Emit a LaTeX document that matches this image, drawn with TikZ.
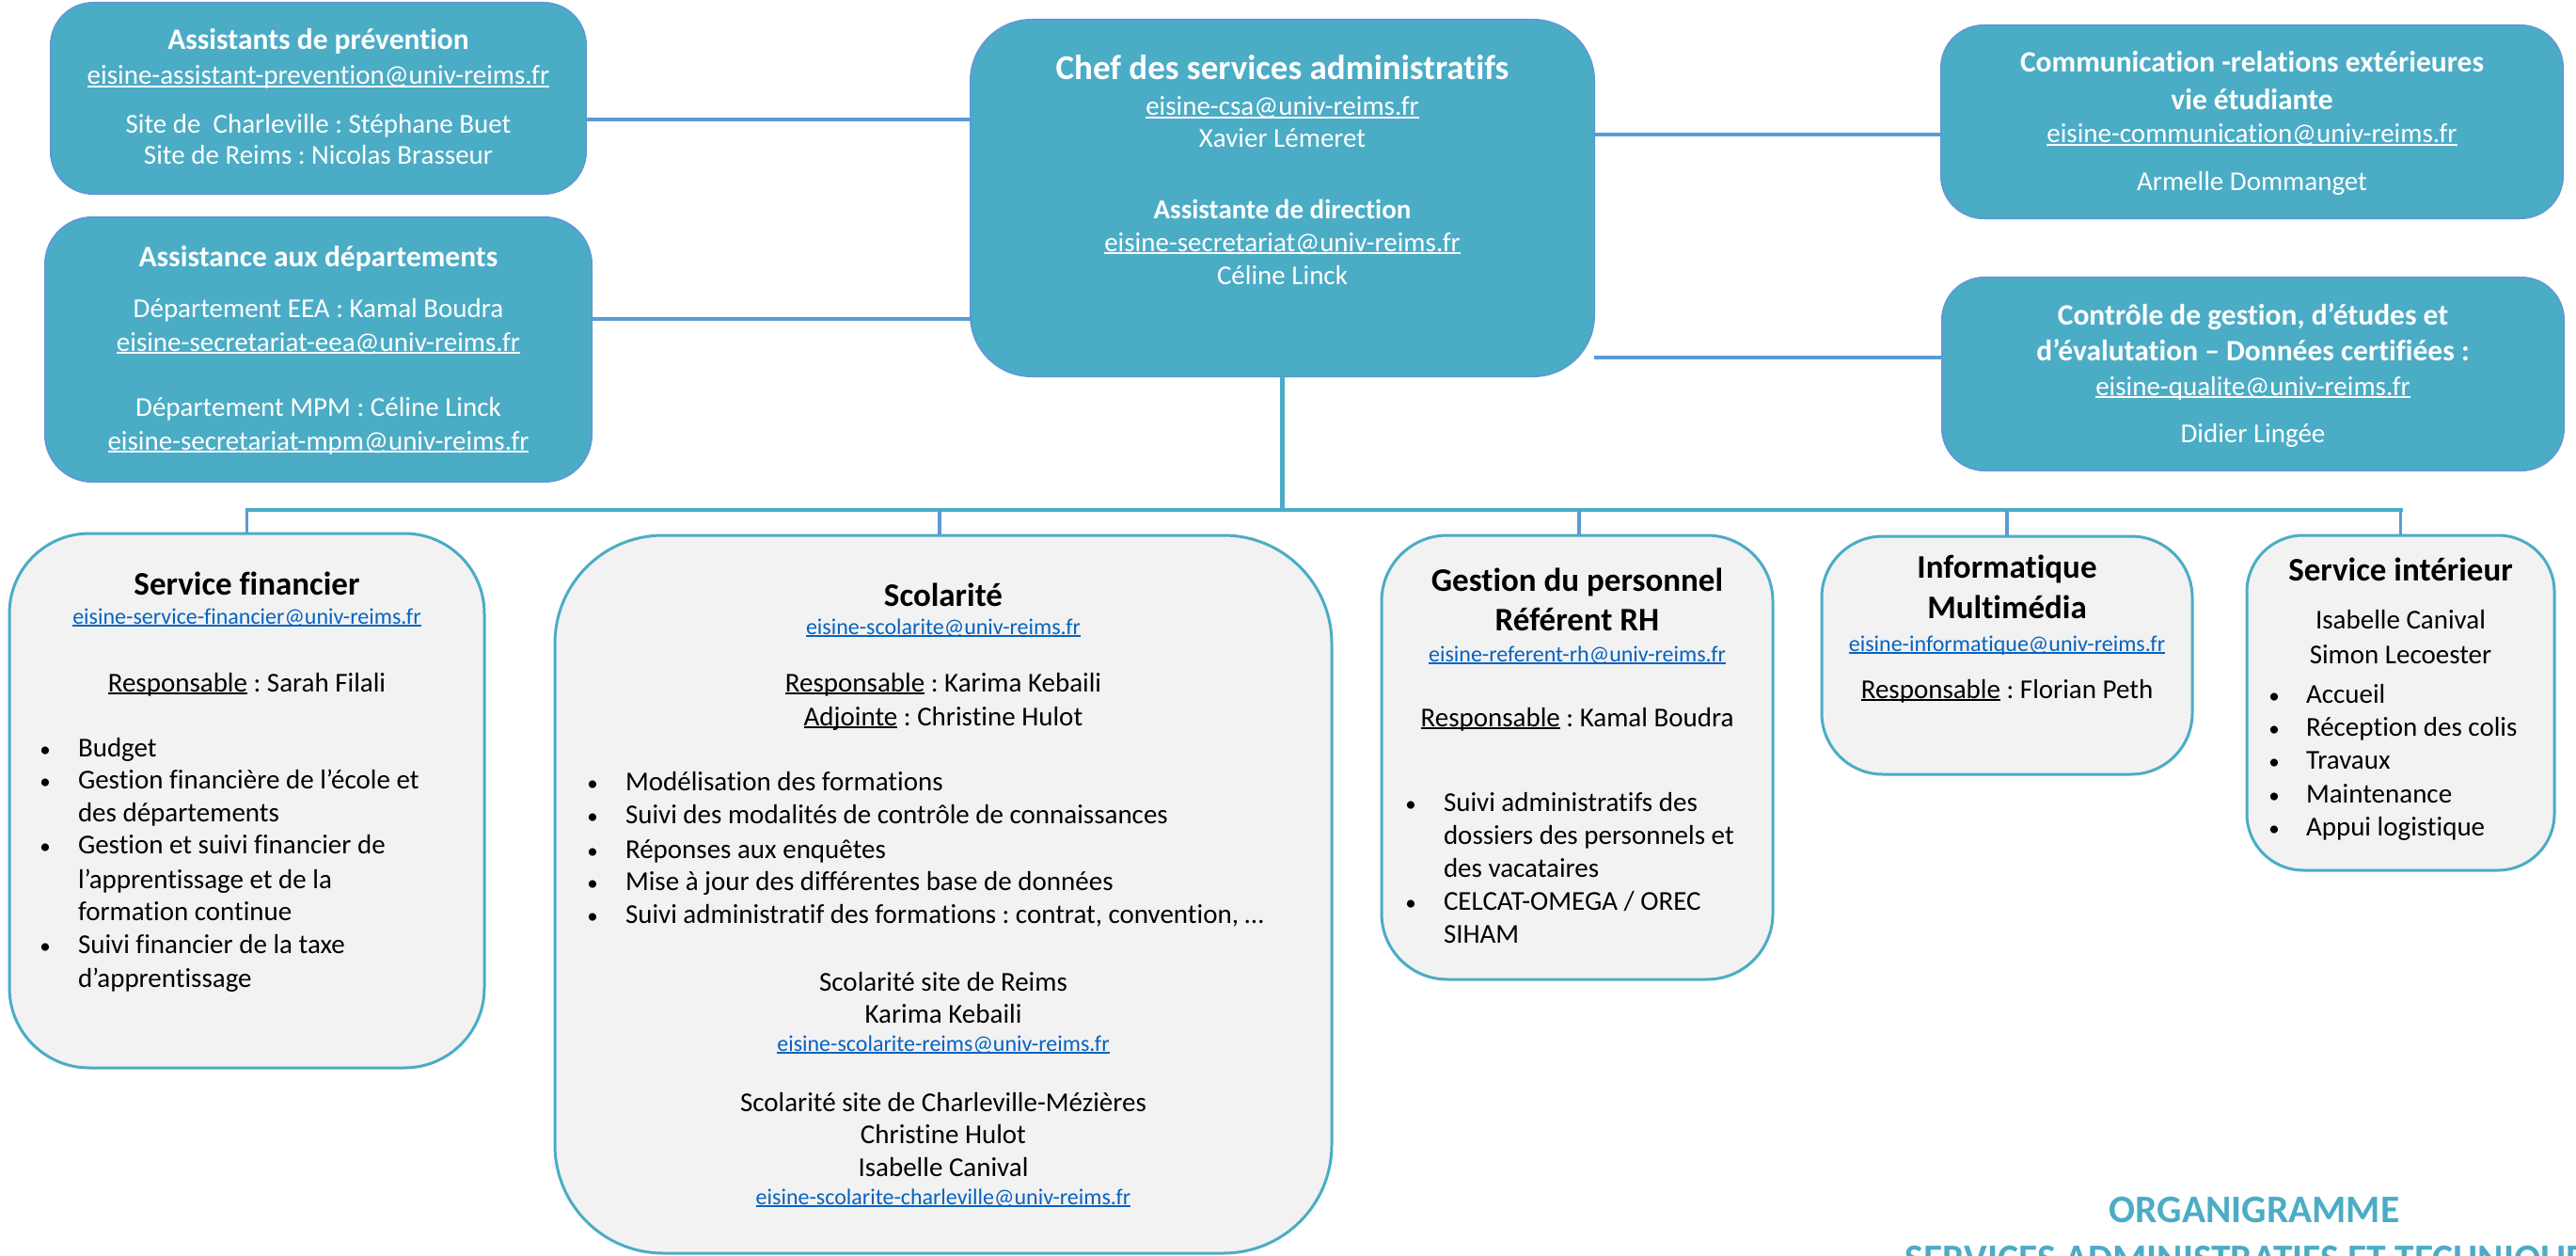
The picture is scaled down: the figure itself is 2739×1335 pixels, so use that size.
\documentclass[tikz,border=0pt]{standalone}
\usepackage{fontspec}
\setmainfont{Carlito}[Ligatures={NoCommon}]
\frenchspacing
\definecolor{teal1}{HTML}{4BACC6}
\definecolor{blue1}{HTML}{5B9BD5}
\definecolor{grayf}{HTML}{F2F2F2}
\definecolor{linkc}{HTML}{0563C1}
\newsavebox\ulbox
\newcommand\ulx[1]{\sbox\ulbox{#1}\rlap{\rule[-0.11em]{\wd\ulbox}{0.065em}}\usebox\ulbox}
\newcommand\fTop{\fontsize{31.5}{37}\selectfont\bfseries}
\newcommand\fBody{\fontsize{29}{35}\selectfont}
\newcommand\fBodyB{\fontsize{29}{35}\selectfont\bfseries}
\newcommand\fBig{\fontsize{37}{44}\selectfont\bfseries}
\newcommand\fLow{\fontsize{35}{42}\selectfont\bfseries}
\newcommand\fMail{\fontsize{24}{29}\selectfont}
\newcommand\fOrg{\fontsize{41.5}{50}\selectfont\bfseries}
\newcommand\fBul{\fontsize{23}{28}\selectfont}
\tikzset{
  topbox/.style={draw=blue1, fill=teal1, line width=2pt, inner sep=0pt, outer sep=0pt},
  lowbox/.style={draw=teal1, fill=grayf, line width=3pt, inner sep=0pt, outer sep=0pt},
  conn/.style={draw=blue1, line width=4pt},
  drop/.style={draw=blue1, line width=3.5pt},
  busl/.style={draw=teal1, line width=4.5pt},
  tx/.style={anchor=base, inner sep=0pt, outer sep=0pt},
  txl/.style={anchor=base west, inner sep=0pt, outer sep=0pt},
  wt/.style={tx, text=white, font=\fBody},
  wtt/.style={tx, text=white, font=\fTop},
  bk/.style={tx, text=black, font=\fBody},
  bkl/.style={txl, text=black, font=\fBody},
  bul/.style={tx, text=black, font=\fBul},
  ttl/.style={tx, text=black, font=\fLow},
  ml/.style={tx, text=linkc, font=\fMail},
}
\begin{document}
\begin{tikzpicture}[x=1pt, y=-1pt]
\fill[white] (0,0) rectangle (2739,1335);
\useasboundingbox (0,0) rectangle (2739,1335);

% ---------- top boxes ----------
\node[topbox, rounded corners=45pt, minimum width=569pt, minimum height=203pt] (ap) at (338.5,104.5) {};
\node[topbox, rounded corners=50pt, minimum width=581pt, minimum height=281pt] (ad) at (338.5,371.5) {};
\node[topbox, rounded corners=65pt, minimum width=663pt, minimum height=379pt] (chef) at (1363.5,210.5) {};
\node[topbox, rounded corners=45pt, minimum width=661pt, minimum height=205pt] (comm) at (2394.5,129.5) {};
\node[topbox, rounded corners=45pt, minimum width=661pt, minimum height=205pt] (ctrl) at (2395.5,397.5) {};

% ---------- lower boxes ----------
\node[lowbox, rounded corners=85pt, minimum width=505pt, minimum height=568pt] (sf) at (262.5,851) {};
\node[lowbox, rounded corners=115pt, minimum width=826pt, minimum height=763pt] (sc) at (1003,950.5) {};
\node[lowbox, rounded corners=70pt, minimum width=416pt, minimum height=472pt] (gp) at (1677,805) {};
\node[lowbox, rounded corners=65pt, minimum width=394pt, minimum height=253pt] (inf) at (2134,696.5) {};
\node[lowbox, rounded corners=60pt, minimum width=327pt, minimum height=356pt] (si) at (2552.5,747) {};

% ---------- connectors ----------
\coordinate (ya) at (0,127);
\coordinate (yb) at (0,339);
\coordinate (yc) at (0,143);
\coordinate (yd) at (0,380);
\coordinate (busy) at (0,542);
\draw[conn] (ap.east |- ya) -- (chef.west |- ya);
\draw[conn] (ad.east |- yb) -- (chef.west |- yb);
\draw[conn] (chef.east |- yc) -- (comm.west |- yc);
\draw[conn] (chef.east |- yd) -- (ctrl.west |- yd);
\draw[busl] (chef.south) -- (chef.south |- busy);
\draw[busl] ([xshift=-2pt]sf.north |- busy) -- ([xshift=2pt]si.north |- busy);
\draw[drop] (sf.north |- busy) -- (sf.north);
\draw[drop] ([xshift=-4pt]sc.north |- busy) -- ([xshift=-4pt]sc.north);
\draw[drop] ([xshift=2pt]gp.north |- busy) -- ([xshift=2pt]gp.north);
\draw[drop] (inf.north |- busy) -- (inf.north);
\draw[drop] (si.north |- busy) -- (si.north);

% ---------- texts: Assistants de prévention ----------
\node[wtt] (ap1) at (338.5,52.7) {Assistants de prévention};
\node[wt] (ap2) at (338.5,90) {\ulx{eisine-assistant-prevention@univ-reims.fr}};
\node[wt] (ap3) at (338.5,141.7) {Site de~ Charleville : Stéphane Buet};
\node[wt] (ap4) at (338.5,175) {Site de Reims : Nicolas Brasseur};

% ---------- Assistance aux départements ----------
\node[wtt] (ad1) at (338.5,283) {Assistance aux départements};
\node[wt] (ad2) at (338.5,337) {Département EEA : Kamal Boudra};
\node[wt] (ad3) at (338.5,373) {\ulx{eisine-secretariat-eea@univ-reims.fr}};
\node[wt] (ad4) at (338.5,442) {Département MPM : Céline Linck};
\node[wt] (ad5) at (338.5,478) {\ulx{eisine-secretariat-mpm@univ-reims.fr}};

% ---------- Chef ----------
\node[tx, text=white, font=\fBig] (ch1) at (1363.5,85) {Chef des services administratifs};
\node[wt] (ch2) at (1363.5,123) {\ulx{eisine-csa@univ-reims.fr}};
\node[wt] (ch3) at (1363.5,157) {Xavier Lémeret};
\node[tx, text=white, font=\fBodyB] (ch4) at (1363.5,232) {Assistante de direction};
\node[wt] (ch5) at (1363.5,267) {\ulx{eisine-secretariat@univ-reims.fr}};
\node[wt] (ch6) at (1363.5,302) {Céline Linck};

% ---------- Communication ----------
\node[wtt] (co1) at (2394.5,77) {Communication -relations extérieures};
\node[wtt] (co2) at (2394.5,117) {vie étudiante};
\node[wt] (co3) at (2394.5,152) {\ulx{eisine-communication@univ-reims.fr}};
\node[wt] (co4) at (2394.5,202) {Armelle Dommanget};

% ---------- Contrôle ----------
\node[wtt] (ct1) at (2395.5,345) {Contrôle de gestion, d’études et};
\node[wtt] (ct2) at (2395.5,383) {d’évalutation – Données certifiées :};
\node[wt] (ct3) at (2395.5,420) {\ulx{eisine-qualite@univ-reims.fr}};
\node[wt] (ct4) at (2395.5,470) {Didier Lingée};

% ---------- Service financier ----------
\node[ttl] (sf1) at (262.5,632) {Service financier};
\node[ml] (sf2) at (262.5,663) {\ulx{eisine-service-financier@univ-reims.fr}};
\node[bk] (sf3) at (262.5,735) {\ulx{Responsable} : Sarah Filali};
\node[bul] (sfb1) at (48,804) {•};
\node[bul] (sfb2) at (48,838.5) {•};
\node[bul] (sfb3) at (48,907) {•};
\node[bul] (sfb4) at (48,1013) {•};
\node[bkl] (sfl1) at (83,804) {Budget};
\node[bkl] (sfl2) at (83,838.5) {Gestion financière de l’école et};
\node[bkl] (sfl3) at (83,873) {des départements};
\node[bkl] (sfl4) at (83,907) {Gestion et suivi financier de};
\node[bkl] (sfl5) at (83,944) {l’apprentissage et de la};
\node[bkl] (sfl6) at (83,978) {formation continue};
\node[bkl] (sfl7) at (83,1013) {Suivi financier de la taxe};
\node[bkl] (sfl8) at (83,1049) {d’apprentissage};

% ---------- Scolarité ----------
\node[ttl] (sc1) at (1003,644) {Scolarité};
\node[ml] (sc2) at (1003,674) {\ulx{eisine-scolarite@univ-reims.fr}};
\node[bk] (sc3) at (1003,735) {\ulx{Responsable} : Karima Kebaili};
\node[bk] (sc4) at (1003,771) {\ulx{Adjointe} : Christine Hulot};
\node[bul] (scb1) at (630,840) {•};
\node[bul] (scb2) at (630,875) {•};
\node[bul] (scb3) at (630,912) {•};
\node[bul] (scb4) at (630,946) {•};
\node[bul] (scb5) at (630,981) {•};
\node[bkl] (scl1) at (665,840) {Modélisation des formations};
\node[bkl] (scl2) at (665,875) {Suivi des modalités de contrôle de connaissances};
\node[bkl] (scl3) at (665,912) {Réponses aux enquêtes};
\node[bkl] (scl4) at (665,946) {Mise à jour des différentes base de données};
\node[bkl] (scl5) at (665,981) {Suivi administratif des formations : contrat, convention, …};
\node[bk] (sc5) at (1003,1053) {Scolarité site de Reims};
\node[bk] (sc6) at (1003,1087) {Karima Kebaili};
\node[ml] (sc7) at (1003,1117) {\ulx{eisine-scolarite-reims@univ-reims.fr}};
\node[bk] (sc8) at (1003,1181.5) {Scolarité site de Charleville-Mézières};
\node[bk] (sc9) at (1003,1215) {Christine Hulot};
\node[bk] (sc10) at (1003,1250) {Isabelle Canival};
\node[ml] (sc11) at (1003,1280) {\ulx{eisine-scolarite-charleville@univ-reims.fr}};

% ---------- Gestion du personnel ----------
\node[ttl] (gp1) at (1677,628) {Gestion du personnel};
\node[ttl] (gp2) at (1677,670) {Référent RH};
\node[ml] (gp3) at (1677,703) {\ulx{eisine-referent-rh@univ-reims.fr}};
\node[bk] (gp4) at (1677,772) {\ulx{Responsable} : Kamal Boudra};
\node[bul] (gpb1) at (1500,862) {•};
\node[bul] (gpb2) at (1500,967) {•};
\node[bkl] (gpl1) at (1535,862) {Suivi administratifs des};
\node[bkl] (gpl2) at (1535,897) {dossiers des personnels et};
\node[bkl] (gpl3) at (1535,932) {des vacataires};
\node[bkl] (gpl4) at (1535,967) {CELCAT-OMEGA / OREC};
\node[bkl] (gpl5) at (1535,1002) {SIHAM};

% ---------- Informatique ----------
\node[ttl] (in1) at (2134,614) {Informatique};
\node[ttl] (in2) at (2134,657) {Multimédia};
\node[ml] (in3) at (2134,692) {\ulx{eisine-informatique@univ-reims.fr}};
\node[bk] (in4) at (2134,742) {\ulx{Responsable} : Florian Peth};

% ---------- Service intérieur ----------
\node[ttl] (si1) at (2552.5,617) {Service intérieur};
\node[bk] (si2) at (2552.5,668) {Isabelle Canival};
\node[bk] (si3) at (2552.5,705) {Simon Lecoester};
\node[bul] (sib1) at (2418,747) {•};
\node[bul] (sib2) at (2418,782) {•};
\node[bul] (sib3) at (2418,817) {•};
\node[bul] (sib4) at (2418,853) {•};
\node[bul] (sib5) at (2418,888) {•};
\node[bkl] (sil1) at (2452,747) {Accueil};
\node[bkl] (sil2) at (2452,782) {Réception des colis};
\node[bkl] (sil3) at (2452,817) {Travaux};
\node[bkl] (sil4) at (2452,853) {Maintenance};
\node[bkl] (sil5) at (2452,888) {Appui logistique};

% ---------- title ----------
\node[tx, text=teal1, font=\fOrg] (org1) at (2397,1299) {ORGANIGRAMME};
\node[tx, text=teal1, font=\fOrg] (org2) at (2397,1351) {SERVICES ADMINISTRATIFS ET TECHNIQUES};
\end{tikzpicture}
\end{document}
